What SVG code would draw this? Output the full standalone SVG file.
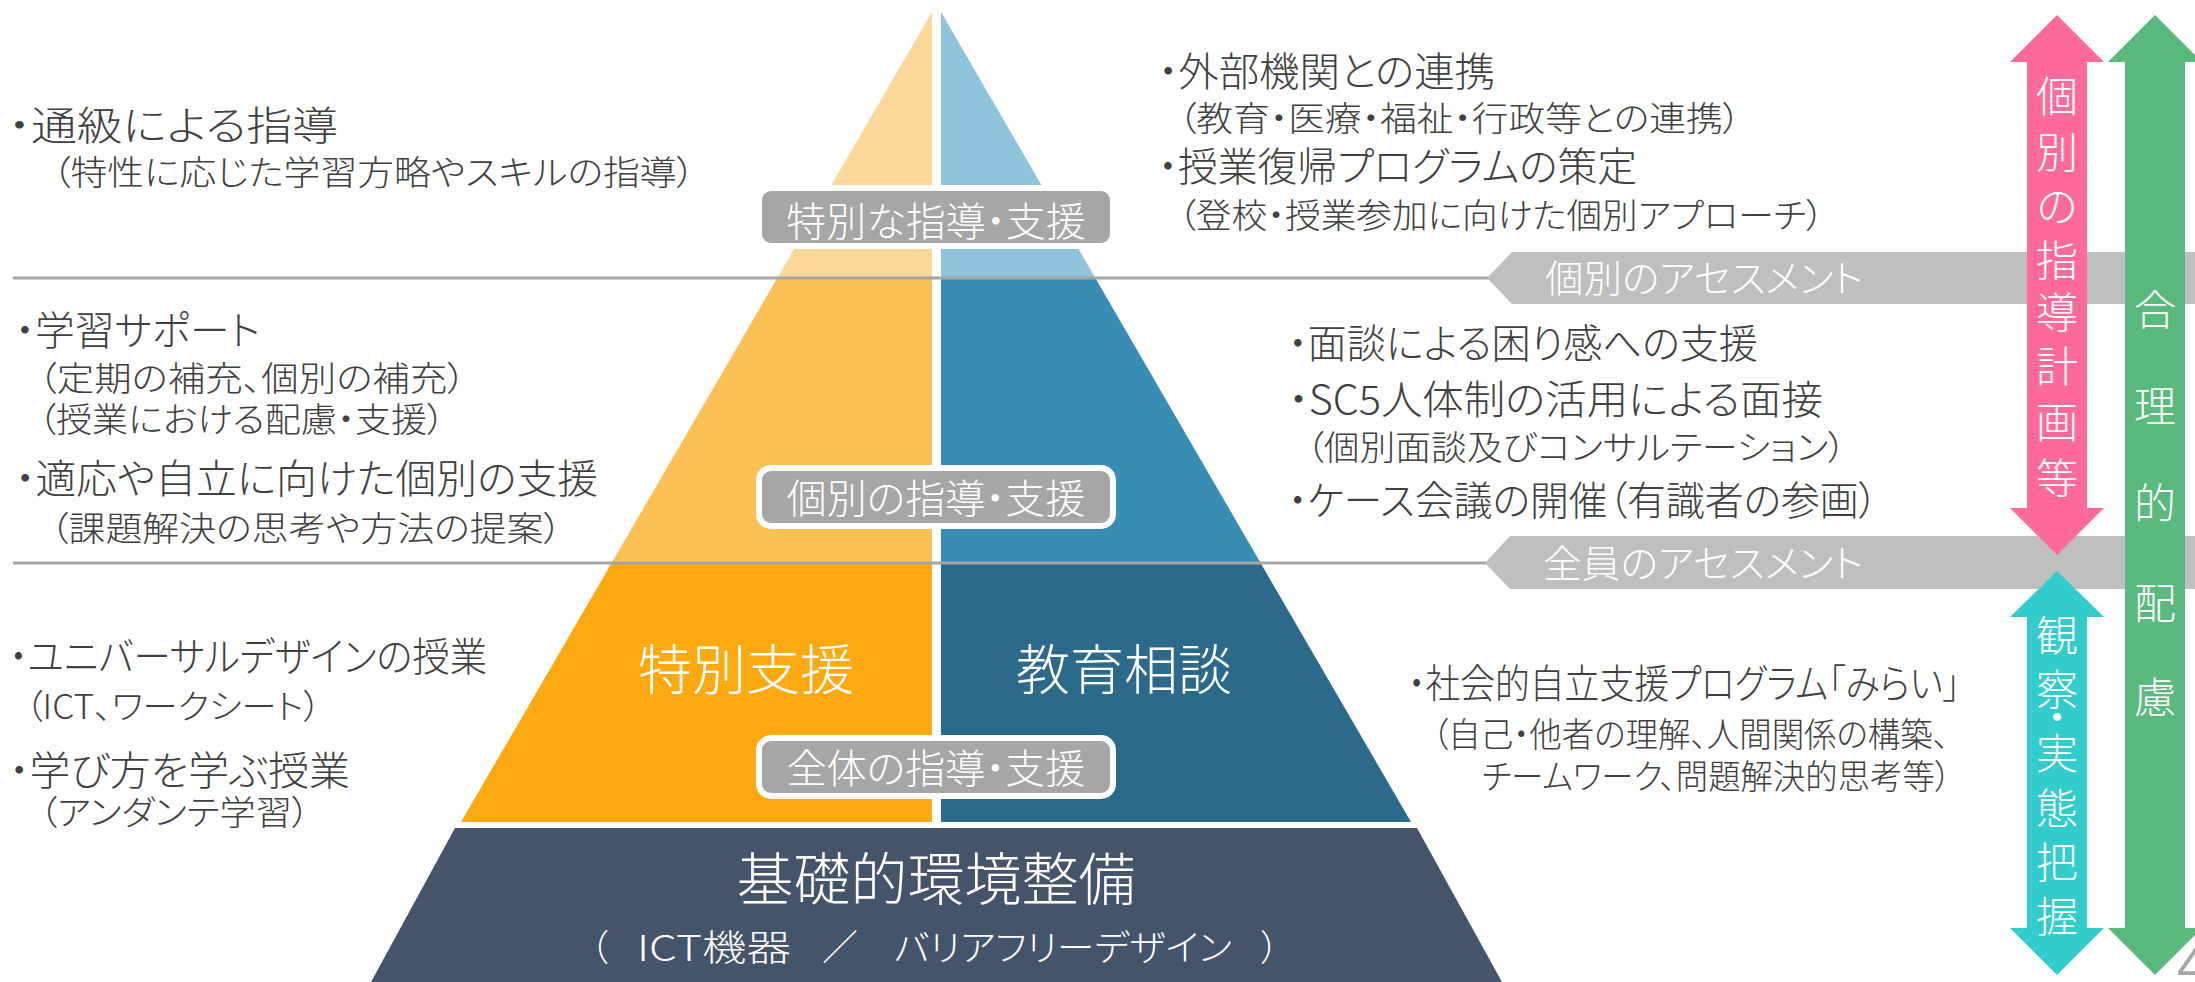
<svg xmlns="http://www.w3.org/2000/svg" width="2195" height="982" viewBox="0 0 2195 982">
<style>
text { font-family: "Noto Sans CJK JP", "Noto Sans CJK SC", sans-serif; font-feature-settings: "palt"; font-weight: 300; }
.m { font-size: 40px; fill: #404040; }
.s { font-size: 34px; fill: #404040; }
.w { fill: #ffffff; }
.lbl { font-size: 40px; fill: #ffffff; text-anchor: middle; }
.box { fill: #a6a6a6; stroke: #ffffff; stroke-width: 12; paint-order: stroke; }
.sep { stroke: #a6a6a6; stroke-width: 3; fill: none; }
.ban { fill: #bfbfbf; }
.bt { font-size: 38px; fill: #ffffff; }
.vt { font-size: 42px; fill: #ffffff; text-anchor: middle; }
</style>
<rect width="2195" height="982" fill="#ffffff"/>

<g id="pyramid-top">
  <polygon points="932,12 932,278 777.3,278" fill="#fdd89a"/>
  <polygon points="941,12 1095.3,278 941,278" fill="#90c3dc"/>
</g>
<g id="pyramid-middle">
  <polygon points="932,278 932,563 611.6,563 777.3,278" fill="#fcc055"/>
  <polygon points="941,278 1095.3,278 1260.6,563 941,563" fill="#388db5"/>
</g>
<g id="pyramid-bottom">
  <polygon points="932,563 932,822 461,822 611.6,563" fill="#fca912"/>
  <polygon points="941,563 1260.6,563 1411,822 941,822" fill="#2b6a8a"/>
  <text class="w" x="746" y="690" font-size="54" text-anchor="middle">特別支援</text>
  <text class="w" x="1124" y="690" font-size="54" text-anchor="middle">教育相談</text>
</g>
<g id="pyramid-base">
  <polygon points="455,828 1417,828 1502,982 371,982" fill="#44546a"/>
  <text class="w" x="936" y="900" font-size="57" text-anchor="middle">基礎的環境整備</text>
  <text class="w" x="590" y="961" font-size="36">（</text>
  <text class="w" x="637" y="961" font-size="36" textLength="154" lengthAdjust="spacingAndGlyphs">ICT機器</text>
  <text class="w" x="840" y="961" font-size="36" text-anchor="middle">／</text>
  <text class="w" x="894" y="961" font-size="36" textLength="338" lengthAdjust="spacingAndGlyphs">バリアフリーデザイン</text>
  <text class="w" x="1279" y="961" font-size="36" text-anchor="end">）</text>
</g>

<g id="connectors">
  <line class="sep" x1="13" y1="278" x2="1490" y2="278"/>
  <line class="sep" x1="13" y1="563" x2="1490" y2="563"/>
</g>

<g id="label-special">
  <rect class="box" x="762" y="191" width="348" height="52" rx="9"/>
  <text class="lbl" x="936" y="236">特別な指導・支援</text>
</g>
<g id="label-individual">
  <rect class="box" x="762" y="471" width="348" height="52" rx="9"/>
  <text class="lbl" x="936" y="513">個別の指導・支援</text>
</g>
<g id="label-all">
  <rect class="box" x="762" y="741" width="348" height="52" rx="9"/>
  <text class="lbl" x="936" y="783">全体の指導・支援</text>
</g>

<g id="text-left-top">
  <text class="m" x="8" y="140" textLength="330" lengthAdjust="spacingAndGlyphs">・通級による指導</text>
  <text class="s" x="52" y="185" textLength="643" lengthAdjust="spacingAndGlyphs">（特性に応じた学習方略やスキルの指導）</text>
</g>
<g id="text-left-middle">
  <text class="m" x="15" y="345" textLength="245" lengthAdjust="spacingAndGlyphs">・学習サポート</text>
  <text class="s" x="38" y="391" textLength="428" lengthAdjust="spacingAndGlyphs">（定期の補充、個別の補充）</text>
  <text class="s" x="38" y="432" textLength="407" lengthAdjust="spacingAndGlyphs">（授業における配慮・支援）</text>
  <text class="m" x="15" y="493" textLength="583" lengthAdjust="spacingAndGlyphs">・適応や自立に向けた個別の支援</text>
  <text class="s" x="50" y="541" textLength="512" lengthAdjust="spacingAndGlyphs">（課題解決の思考や方法の提案）</text>
</g>
<g id="text-left-bottom">
  <text class="m" x="9" y="671" textLength="478" lengthAdjust="spacingAndGlyphs">・ユニバーサルデザインの授業</text>
  <text class="s" x="25" y="719" textLength="296" lengthAdjust="spacingAndGlyphs">（ICT、ワークシート）</text>
  <text class="m" x="9" y="785" textLength="341" lengthAdjust="spacingAndGlyphs">・学び方を学ぶ授業</text>
  <text class="s" x="39" y="825" textLength="271" lengthAdjust="spacingAndGlyphs">（アンダンテ学習）</text>
</g>
<g id="text-right-top">
  <text class="m" x="1158" y="86" textLength="337" lengthAdjust="spacingAndGlyphs">・外部機関との連携</text>
  <text class="s" x="1178" y="131" textLength="563" lengthAdjust="spacingAndGlyphs">（教育・医療・福祉・行政等との連携）</text>
  <text class="m" x="1158" y="181" textLength="479" lengthAdjust="spacingAndGlyphs">・授業復帰プログラムの策定</text>
  <text class="s" x="1178" y="228" textLength="646" lengthAdjust="spacingAndGlyphs">（登校・授業参加に向けた個別アプローチ）</text>
</g>
<g id="text-right-middle">
  <text class="m" x="1288" y="358" textLength="470" lengthAdjust="spacingAndGlyphs">・面談による困り感への支援</text>
  <text class="m" x="1288" y="414" textLength="535" lengthAdjust="spacingAndGlyphs">・SC5人体制の活用による面接</text>
  <text class="s" x="1306" y="460" textLength="540" lengthAdjust="spacingAndGlyphs">（個別面談及びコンサルテーション）</text>
  <text class="m" x="1288" y="515" textLength="590" lengthAdjust="spacingAndGlyphs">・ケース会議の開催（有識者の参画）</text>
</g>
<g id="text-right-bottom">
  <text class="m" x="1408" y="698" textLength="552" lengthAdjust="spacingAndGlyphs">・社会的自立支援プログラム「みらい」</text>
  <text class="s" x="1432" y="747" textLength="517" lengthAdjust="spacingAndGlyphs">（自己・他者の理解、人間関係の構築、</text>
  <text class="s" x="1482" y="789" textLength="469" lengthAdjust="spacingAndGlyphs">チームワーク、問題解決的思考等）</text>
</g>

<g id="banner-individual-assessment">
  <polygon class="ban" points="1487,278 1512,252 2195,252 2195,304 1512,304"/>
  <text class="bt" x="1545" y="292" textLength="318" lengthAdjust="spacingAndGlyphs">個別のアセスメント</text>
</g>
<g id="banner-all-assessment">
  <polygon class="ban" points="1485,563 1510,536 2195,536 2195,589 1510,589"/>
  <text class="bt" x="1543" y="577" textLength="320" lengthAdjust="spacingAndGlyphs">全員のアセスメント</text>
</g>

<g id="arrow-plan">
  <polygon points="2057,15 2104,62 2087,62 2087,508 2104,508 2057,555 2010,508 2027,508 2027,62 2010,62" fill="#fe6a9a"/>
  <text class="vt" x="2057" y="112">個</text>
  <text class="vt" x="2057" y="168">別</text>
  <text class="vt" x="2057" y="222">の</text>
  <text class="vt" x="2057" y="276">指</text>
  <text class="vt" x="2057" y="328">導</text>
  <text class="vt" x="2057" y="382">計</text>
  <text class="vt" x="2057" y="438">画</text>
  <text class="vt" x="2057" y="494">等</text>
</g>
<g id="arrow-observation">
  <polygon points="2057,571 2104,617 2087,617 2087,928 2104,928 2057,975 2010,928 2027,928 2027,617 2010,617" fill="#33cccc"/>
  <text class="vt" x="2057" y="651">観</text>
  <text class="vt" x="2057" y="705">察</text>
  <text class="vt" x="2057" y="733" font-size="30">・</text>
  <text class="vt" x="2057" y="769">実</text>
  <text class="vt" x="2057" y="824">態</text>
  <text class="vt" x="2057" y="878">把</text>
  <text class="vt" x="2057" y="932">握</text>
</g>
<g id="arrow-accommodation">
  <polygon points="2155,15 2202,62 2185,62 2185,928 2202,928 2155,975 2108,928 2125,928 2125,62 2108,62" fill="#5aba7e"/>
  <text class="vt" x="2155" y="325">合</text>
  <text class="vt" x="2155" y="422">理</text>
  <text class="vt" x="2155" y="519">的</text>
  <text class="vt" x="2155" y="619">配</text>
  <text class="vt" x="2155" y="713">慮</text>
</g>
<g id="page-number">
  <text x="2177" y="984" font-size="56" fill="#a6a6a6" style="font-family: 'Liberation Sans', sans-serif; font-weight: 400;">4</text>
</g>
</svg>
